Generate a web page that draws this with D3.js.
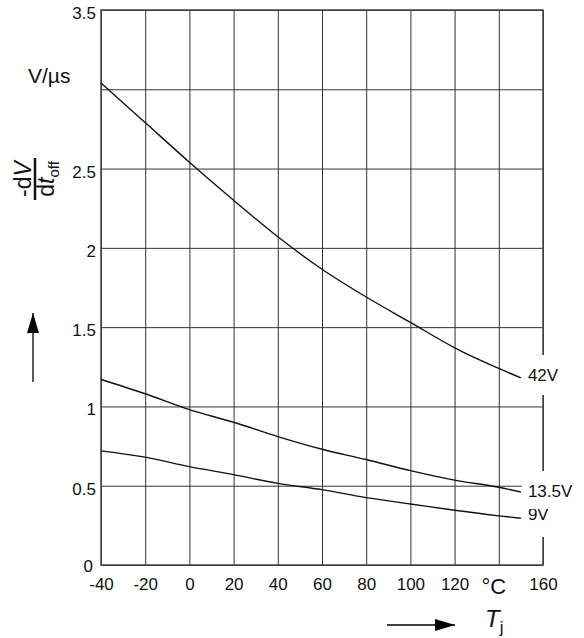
<!DOCTYPE html>
<html>
<head>
<meta charset="utf-8">
<script src="https://cdn.jsdelivr.net/npm/d3@7"></script>
<style>
  body { margin: 0; background: #fff; }
  svg { display: block; font-family: "Liberation Sans", Arial, sans-serif; }
  .grid line { stroke: #333; stroke-width: 1; }
  .grid path { display: none; }
  .tick text { fill: #111; font-size: 17px; }
</style>
</head>
<body>
<div id="chart"></div>
<script>
// junction temperature, deg C
let temps = [-40, -20, 0, 20, 40, 60, 80, 100, 120, 140, 150];
// -dV/dt_off in V/us for each supply voltage
let v42 = [3.04, 2.79, 2.54, 2.30, 2.07, 1.865, 1.69, 1.53, 1.37, 1.24, 1.18];
let v135 = [1.17, 1.08, 0.98, 0.90, 0.81, 0.73, 0.665, 0.595, 0.535, 0.49, 0.46];
let v9 = [0.72, 0.68, 0.62, 0.57, 0.515, 0.475, 0.425, 0.385, 0.345, 0.31, 0.295];
let seriesNames = ["42V", "13.5V", "9V"];

let xTicks = [-40, -20, 0, 20, 40, 60, 80, 100, 120, 140, 160];
let xTickLabels = ["-40", "-20", "0", "20", "40", "60", "80", "100", "120", "", "160"];
let yTicks = [0, 0.5, 1, 1.5, 2, 2.5, 3, 3.5];
let yTickLabels = ["0", "0.5", "1", "1.5", "2", "2.5", "", "3.5"];

let width = 584;
let height = 638;

let x = d3.scaleLinear().domain([-40, 160]).range([101, 543]);
let y = d3.scaleLinear().domain([0, 3.5]).range([565, 10]);

let svg = d3.select("#chart")
  .append("svg")
  .attr("width", width)
  .attr("height", height);

/* grid + axes */
svg.append("g")
  .attr("class", "grid")
  .attr("transform", `translate(0, ${y(0)})`)
  .call(d3.axisBottom(x)
    .tickValues(xTicks)
    .tickSize(-(y(0) - y(3.5)))
    .tickPadding(13)
    .tickFormat((d, i) => xTickLabels[i]));

let yAxisG = svg.append("g")
  .attr("class", "grid")
  .attr("transform", `translate(${x(-40)}, 0)`)
  .call(d3.axisLeft(y)
    .tickValues(yTicks)
    .tickSize(-(x(160) - x(-40)))
    .tickPadding(5)
    .tickFormat((d, i) => yTickLabels[i]));

yAxisG.selectAll("text")
  .attr("dy", d => d === 0 ? "0.38em" : "0.5em")
  .attr("x", d => d === 0 ? -8 : -5);

// plot frame
svg.append("rect")
  .attr("x", x(-40))
  .attr("y", y(3.5))
  .attr("width", x(160) - x(-40))
  .attr("height", y(0) - y(3.5))
  .attr("fill", "none")
  .attr("stroke", "#444")
  .attr("stroke-width", 1.5);

/* curves */
let line = d3.line()
  .x((d, i) => x(temps[i]))
  .y(d => y(d))
  .curve(d3.curveMonotoneX);

svg.append("g")
  .selectAll("path")
  .data([v42, v135, v9])
  .enter()
  .append("path")
  .attr("d", d => line(d))
  .attr("fill", "none")
  .attr("stroke", "#111")
  .attr("stroke-width", 1.4);

/* curve labels with white boxes over the frame */
let last = temps.length - 1;
function curveLabel(name, vals, dy, box) {
  svg.append("rect")
    .attr("x", x(temps[last]) + 1)
    .attr("y", box[0])
    .attr("width", width - x(temps[last]))
    .attr("height", box[1] - box[0])
    .attr("fill", "#fff");
  svg.append("text")
    .attr("x", x(temps[last]) + 7)
    .attr("y", y(vals[last]) + dy)
    .attr("font-size", 17)
    .attr("fill", "#111")
    .text(name);
}
curveLabel(seriesNames[2], v9, 2, [509, 537]);
curveLabel(seriesNames[1], v135, 5, [471, 509]);
curveLabel(seriesNames[0], v42, 3, [355, 395]);

/* units */
svg.append("text")
  .attr("x", 28)
  .attr("y", 83)
  .attr("font-size", 21)
  .attr("fill", "#111")
  .text("V/µs");

svg.append("text")
  .attr("x", x(140) - 5)
  .attr("y", 594)
  .attr("font-size", 22)
  .attr("text-anchor", "middle")
  .attr("fill", "#111")
  .text("°C");

/* y title: -dV / dt_off */
let yt = svg.append("g")
  .attr("transform", "translate(35, 179) rotate(-90)")
  .attr("fill", "#111");
yt.append("text")
  .attr("y", -4)
  .attr("text-anchor", "middle")
  .attr("font-size", 23)
  .html('-d<tspan font-style="italic">V</tspan>');
yt.append("line")
  .attr("x1", -21)
  .attr("x2", 21)
  .attr("stroke", "#111")
  .attr("stroke-width", 2.5);
let den = yt.append("text")
  .attr("y", 19)
  .attr("text-anchor", "middle")
  .attr("font-size", 23);
den.append("tspan").text("d");
den.append("tspan").attr("font-style", "italic").text("t");
den.append("tspan").attr("font-size", 15).attr("dy", 5).text("off");

/* arrows */
let defs = svg.append("defs");
defs.append("marker")
  .attr("id", "head")
  .attr("viewBox", "0 0 20 12")
  .attr("refX", 20)
  .attr("refY", 6)
  .attr("markerWidth", 20)
  .attr("markerHeight", 12)
  .attr("markerUnits", "userSpaceOnUse")
  .attr("orient", "auto")
  .append("path")
  .attr("d", "M0,0L20,6L0,12Z")
  .attr("fill", "#000");

svg.append("line")
  .attr("x1", 33).attr("y1", 382)
  .attr("x2", 33).attr("y2", 313)
  .attr("stroke", "#000")
  .attr("stroke-width", 1.3)
  .attr("marker-end", "url(#head)");

svg.append("line")
  .attr("x1", 387).attr("y1", 625)
  .attr("x2", 455).attr("y2", 625)
  .attr("stroke", "#000")
  .attr("stroke-width", 1.3)
  .attr("marker-end", "url(#head)");

let tj = svg.append("text")
  .attr("x", 485)
  .attr("y", 627)
  .attr("font-size", 24)
  .attr("fill", "#111");
tj.append("tspan").attr("font-style", "italic").text("T");
tj.append("tspan").attr("font-size", 17).attr("dy", 6).text("j");
</script>
</body>
</html>
